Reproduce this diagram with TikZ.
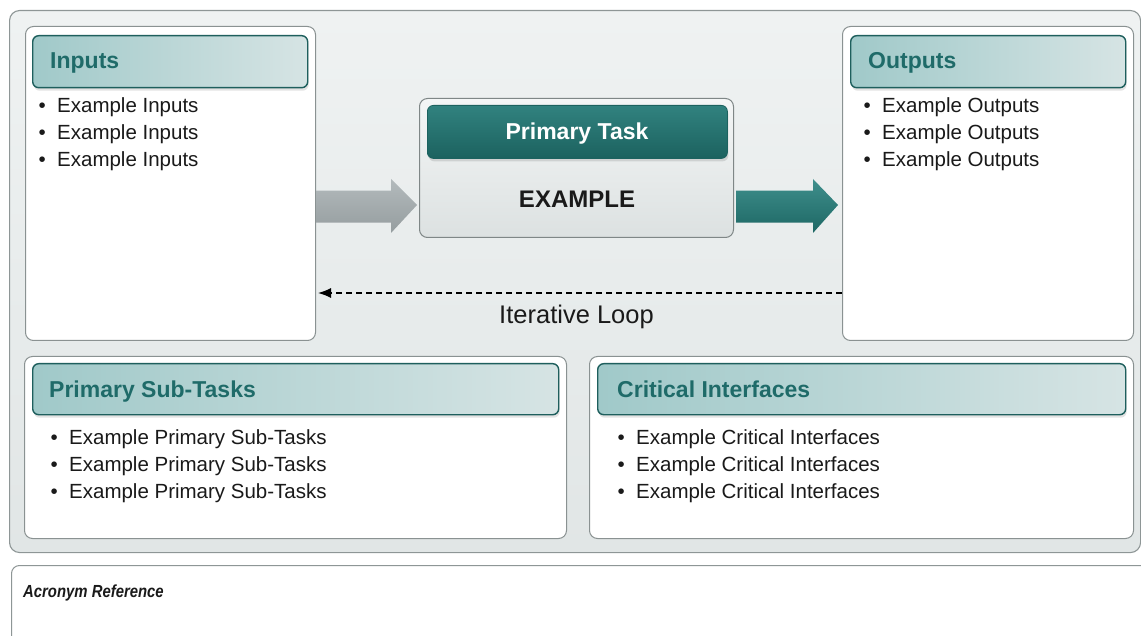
\documentclass[tikz,border=0pt]{standalone}
\usepackage{fontspec}
\setmainfont{Liberation Sans}
\newfontfamily\condfont[FakeStretch=0.85]{Liberation Sans}
\usetikzlibrary{shadows,arrows.meta,calc}
\definecolor{frameTop}{HTML}{EFF2F2}
\definecolor{frameBot}{HTML}{E1E6E6}
\definecolor{frameBorder}{HTML}{8E9696}
\definecolor{panelBorder}{HTML}{8A9292}
\definecolor{hdrBorder}{HTML}{1E5F5D}
\definecolor{hdrLeft}{HTML}{A0C9C9}
\definecolor{hdrRight}{HTML}{D6E4E4}
\definecolor{hdrText}{HTML}{1F6B69}
\definecolor{taskTop}{HTML}{F4F6F6}
\definecolor{taskBot}{HTML}{DCE1E1}
\definecolor{taskBorder}{HTML}{7F8787}
\definecolor{thTop}{HTML}{31827F}
\definecolor{thBot}{HTML}{1C625F}
\definecolor{grayTop}{HTML}{B3BABC}
\definecolor{grayBot}{HTML}{959D9F}
\definecolor{tealTop}{HTML}{3F8F8C}
\definecolor{tealBot}{HTML}{1D6764}
\definecolor{bodyText}{HTML}{1A1A1A}
\begin{document}
\begin{tikzpicture}[x=1pt,y=-1pt,
  outerbox/.style={draw=frameBorder, line width=1.1pt, top color=frameTop, bottom color=frameBot,
    rounded corners=10pt, anchor=north west, inner sep=0pt},
  panel/.style={draw=panelBorder, line width=1pt, fill=white, rounded corners=8pt,
    anchor=north west, inner sep=0pt},
  hdr/.style={draw=hdrBorder, line width=1.4pt, left color=hdrLeft, right color=hdrRight,
    rounded corners=6pt, anchor=north west, inner sep=0pt,
    drop shadow={shadow xshift=1pt, shadow yshift=-3pt, opacity=0.22}},
  hdrtext/.style={font=\fontsize{23}{27}\selectfont\bfseries, text=hdrText, anchor=base west, inner sep=0pt},
  bul/.style={font=\fontsize{20.5}{24}\selectfont, text=bodyText, anchor=base west, inner sep=0pt},
  taskbox/.style={draw=taskBorder, line width=1pt, top color=taskTop, bottom color=taskBot,
    rounded corners=8pt, anchor=north west, inner sep=0pt},
  taskhdr/.style={draw=thBot, line width=0.8pt, top color=thTop, bottom color=thBot,
    rounded corners=6pt, anchor=north west, inner sep=0pt,
    drop shadow={shadow xshift=1pt, shadow yshift=-3pt, opacity=0.25}},
  loopline/.style={draw=black, line width=1.4pt, dash pattern=on 6pt off 4pt,
    -{Latex[length=13pt,width=10pt]}},
  acrbox/.style={draw=frameBorder, line width=1pt, fill=white, rounded corners=8pt,
    anchor=north west, inner sep=0pt},
]
\useasboundingbox (0,0) rectangle (1141,636);

% outer frame
\node[outerbox, minimum width=1131pt, minimum height=542pt] (frame) at (9,10) {};

% panels
\node[panel, minimum width=290pt, minimum height=314pt] (inp) at (25,26) {};
\node[panel, minimum width=291pt, minimum height=314pt] (outp) at (842,26) {};
\node[panel, minimum width=542pt, minimum height=182pt] (sub) at (24,356) {};
\node[panel, minimum width=544pt, minimum height=182pt] (crit) at (589,356) {};

% headers
\node[hdr, minimum width=275pt, minimum height=52pt] (inph) at (32,35) {};
\node[hdr, minimum width=275pt, minimum height=52pt] (outph) at (850,35) {};
\node[hdr, minimum width=526pt, minimum height=51pt] (subh) at (32,363) {};
\node[hdr, minimum width=528pt, minimum height=51pt] (crith) at (597,363) {};

\node[hdrtext] (inpt) at (50,69) {Inputs};
\node[hdrtext] (outpt) at (868,69) {Outputs};
\node[hdrtext] (subt) at (49,397) {Primary Sub-Tasks};
\node[hdrtext] (critt) at (617,397) {Critical Interfaces};

% bullets
\foreach \i/\y in {1/113,2/140,3/167}{
  \node[bul] (inb\i) at (57,\y) {\llap{\textbullet\hspace{11.4pt}}Example Inputs};
  \node[bul] (outb\i) at (882,\y) {\llap{\textbullet\hspace{11.4pt}}Example Outputs};
}
\foreach \i/\y in {1/444,2/471,3/498}{
  \node[bul] (subb\i) at (69,\y) {\llap{\textbullet\hspace{11.4pt}}Example Primary Sub-Tasks};
  \node[bul] (critb\i) at (636,\y) {\llap{\textbullet\hspace{11.4pt}}Example Critical Interfaces};
}

% primary task
\node[taskbox, minimum width=314pt, minimum height=139pt] (task) at (419,98) {};
\node[taskhdr, minimum width=300pt, minimum height=53pt] (taskh) at (427,105) {};
\node[font=\fontsize{23}{27}\selectfont\bfseries, text=white, anchor=base, inner sep=0pt] (taskt) at (577,140) {Primary Task};
\node[font=\fontsize{24}{28}\selectfont\bfseries, text=bodyText, anchor=base, inner sep=0pt] (taskx) at (577,208) {EXAMPLE};

% input arrow (grey)
\coordinate (gtip) at ($(task.west |- 0,205)+(-2,0)$);
\shade[top color=grayTop, bottom color=grayBot]
  (inp.east |- 0,190.7) -- (391,190.7) -- (391,179) -- (gtip) -- (391,233) -- (391,222.7)
  -- (inp.east |- 0,222.7) -- cycle;

% output arrow (teal)
\coordinate (ttip) at ($(outp.west |- 0,205)+(-4,0)$);
\shade[top color=tealTop, bottom color=tealBot]
  ($(task.east |- 0,190.7)+(2,0)$) -- (813,190.7) -- (813,179) -- (ttip) -- (813,233) -- (813,222.7)
  -- ($(task.east |- 0,222.7)+(2,0)$) -- cycle;

% iterative loop
\draw[loopline] (outp.west |- 0,293) -- ($(inp.east |- 0,293)+(2,0)$);
\node[font=\fontsize{25.5}{30}\selectfont, text=bodyText, anchor=base, inner sep=0pt] (loop) at (576.5,324) {Iterative Loop};

% acronym reference
\node[acrbox, minimum width=1160pt, minimum height=100pt] (acr) at (11,565) {};
\node[font=\fontsize{17.5}{21}\condfont\bfseries\itshape, text=bodyText, anchor=base west, inner sep=0pt] (acrt) at (23,597) {Acronym Reference};
\end{tikzpicture}
\end{document}
